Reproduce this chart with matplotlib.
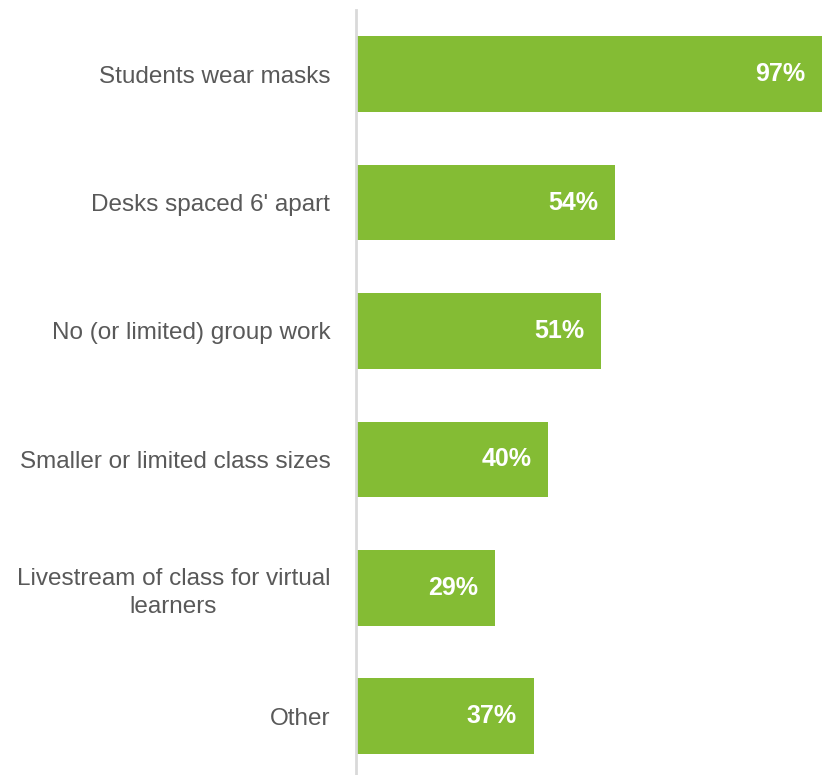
import matplotlib.pyplot as plt

plt.rcParams['font.family'] = ['Liberation Sans', 'DejaVu Sans']

categories = ['Students wear masks', "Desks spaced 6' apart", 'No (or limited) group work',
              'Smaller or limited class sizes', 'Livestream of class for virtual\nlearners', 'Other']
values = [97, 54, 51, 40, 29, 37]

bar_color = '#84BC34'
text_color = '#595959'

fig = plt.figure(figsize=(8.22, 7.75), dpi=100)
ax = fig.add_axes([356 / 822, 0, 1 - 356 / 822, 765 / 775])

pos = list(range(len(categories)))
ax.barh(pos, values, height=0.59, color=bar_color)
ax.set_xlim(0, 97)
ax.set_ylim(5.458, -0.5)

for p, v in zip(pos, values):
    ax.text(v - 97 * 17 / 466, p, '{0}%'.format(v), ha='right', va='center',
            color='white', fontsize=18, fontweight='bold')

ax.set_yticks(pos)
ax.set_yticklabels(categories, fontsize=17.5, color=text_color, ha='right',
                   multialignment='center', linespacing=1.35)
ax.tick_params(axis='y', length=0, pad=18.5)
ax.set_xticks([])

for s in ['top', 'right', 'bottom']:
    ax.spines[s].set_visible(False)
ax.spines['left'].set_color('#D9D9D9')
ax.spines['left'].set_linewidth(2)

fig.savefig('out.png', dpi=100)
